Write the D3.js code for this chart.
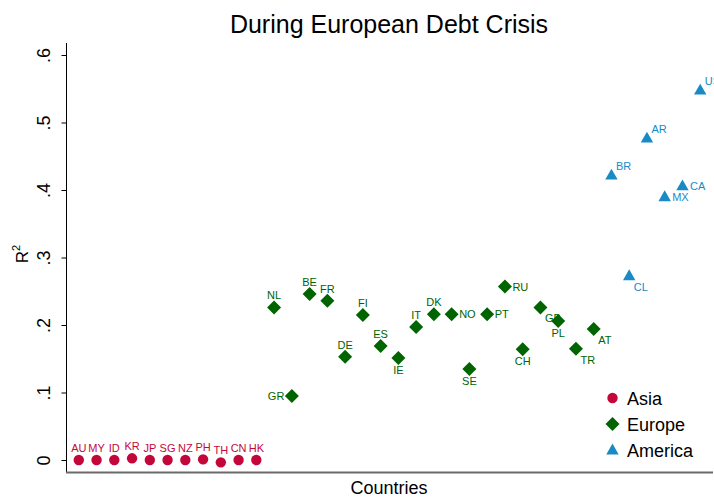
<!DOCTYPE html>
<html><head><meta charset="utf-8">
<script src="https://cdn.jsdelivr.net/npm/d3@7"></script>
<style>body{margin:0;background:#fff}svg{display:block}text{font-family:"Liberation Sans",Arial,Helvetica,sans-serif}</style>
</head><body><svg id="c" width="714" height="497"></svg>
<script>
// ---- data ----
const asiaCountries = ["AU","MY","ID","KR","JP","SG","NZ","PH","TH","CN","HK"];
const asiaValues    = [0, 0, 0, 0.0025, 0, 0, 0, 0.001, -0.0035, 0, 0];
const asiaLabelPos  = [12,12,12,12,12,12,12,12,12,12,12];

const europeCountries = ["NL","GR","BE","FR","DE","FI","ES","IE","IT","DK","NO","SE","PT","RU","CH","GB","PL","TR","AT"];
const europeValues    = [0.226,0.095,0.246,0.236,0.153,0.215,0.169,0.151,0.197,0.216,0.216,0.135,0.216,0.257,0.164,0.226,0.206,0.165,0.194];
const europeLabelPos  = [12,9,12,12,12,12,12,6,12,12,3,6,3,3,6,4,6,4,4];

const americaCountries = ["BR","CL","AR","MX","CA","US"];
const americaValues    = [0.422,0.273,0.477,0.390,0.406,0.548];
const americaLabelPos  = [2,4,2,3,3,2];

const yTicks = [0,0.1,0.2,0.3,0.4,0.5,0.6];
const yTickLabels = ["0",".1",".2",".3",".4",".5",".6"];

const groups = [
  {name:"Asia",    countries:asiaCountries,    values:asiaValues,    pos:asiaLabelPos,    color:"#c4073a", shape:"circle"},
  {name:"Europe",  countries:europeCountries,  values:europeValues,  pos:europeLabelPos,  color:"#006400", shape:"diamond"},
  {name:"America", countries:americaCountries, values:americaValues, pos:americaLabelPos, color:"#1a8ac4", shape:"triangle"}
];

// ---- layout ----
const svg = d3.select("#c");
const L = 66.5, R = 713, T = 43, B = 472;
let idx = 0;
const points = [];
groups.forEach(g => g.countries.forEach((c,i) => { idx++; points.push({group:g, country:c, v:g.values[i], pos:g.pos[i], i:idx}); }));

const x = d3.scaleLinear().domain([0.308, 36.72]).range([L, R]);
const y = d3.scaleLinear().domain([0, 0.6]).range([460, 55]);

function sym(shape){
  if(shape==="circle") return d3.symbol().type(d3.symbolCircle).size(Math.PI*5.2*5.2)();
  if(shape==="diamond") return "M0,-7L7,0L0,7L-7,0Z";
  return "M0,-6.4L6.2,4.4L-6.2,4.4Z";
}

// axes
const yAxis = d3.axisLeft(y).tickValues(yTicks).tickFormat((d,i)=>yTickLabels[i]).tickSize(5).tickPadding(4);
const gy = svg.append("g").attr("transform",`translate(${L},0)`).call(yAxis);
gy.select(".domain").remove();
gy.selectAll(".tick line").attr("stroke","#000");
gy.selectAll(".tick text").attr("font-size",18).attr("fill","#000")
  .attr("text-anchor","middle").attr("dy",null)
  .attr("transform","translate(-17,0) rotate(-90)").attr("x",0).attr("y",0);
svg.append("line").attr("x1",L).attr("x2",L).attr("y1",T).attr("y2",B+1).attr("stroke","#000").attr("stroke-width",1);
svg.append("line").attr("x1",L-0.5).attr("x2",R).attr("y1",B+0.5).attr("y2",B+0.5).attr("stroke","#6a6a6a").attr("stroke-width",2);

// titles
svg.append("text").attr("x",389).attr("y",33).attr("text-anchor","middle").attr("font-size",25).attr("fill","#000").text("During European Debt Crisis");
svg.append("text").attr("x",389).attr("y",494).attr("text-anchor","middle").attr("font-size",18).attr("fill","#000").text("Countries");
const rt = svg.append("text").attr("transform","translate(28,254) rotate(-90)").attr("text-anchor","middle").attr("font-size",17).attr("fill","#000");
rt.append("tspan").text("R");
rt.append("tspan").attr("font-size",11).attr("dy",-8).text("2");

// points
const pg = svg.append("g");
points.forEach(p => {
  const px = x(p.i), py = y(p.v);
  pg.append("path").attr("d",sym(p.group.shape)).attr("transform",`translate(${px},${py})`).attr("fill",p.group.color);
  let tx=px, ty=py, anchor="middle";
  switch(p.pos){
    case 12: ty = py-8; break;
    case 6: ty = py+16; break;
    case 3: tx = px+7.5; ty = py+4; anchor="start"; break;
    case 9: tx = px-7.5; ty = py+4; anchor="end"; break;
    case 4: tx = px+4.5; ty = py+15; anchor="start"; break;
    case 2: tx = px+4.5; ty = py-5.5; anchor="start"; break;
  }
  pg.append("text").attr("x",tx).attr("y",ty).attr("text-anchor",anchor).attr("font-size",11).attr("fill",p.group.color).text(p.country);
});

// legend
const lg = svg.append("g");
groups.forEach((g,i) => {
  const ly = 398 + i*26;
  lg.append("path").attr("d",sym(g.shape)).attr("transform",`translate(612.5,${ly})`).attr("fill",g.color);
  lg.append("text").attr("x",627).attr("y",ly+7).attr("font-size",18).attr("fill","#000").text(g.name);
});
</script></body></html>
